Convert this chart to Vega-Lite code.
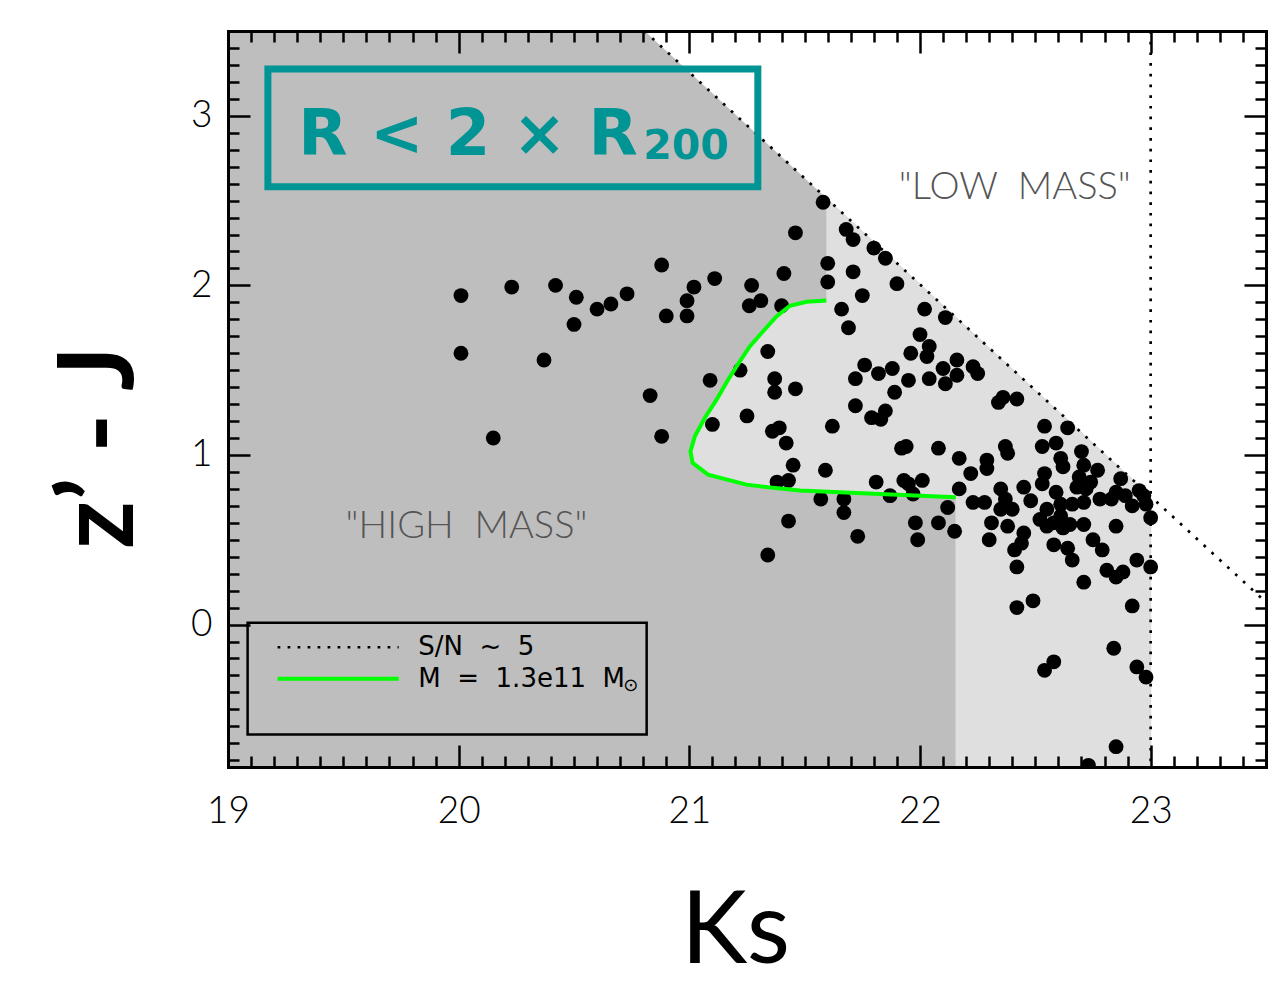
{
  "$schema": "https://vega.github.io/schema/vega-lite/v6.json",
  "width": 1038,
  "height": 736,
  "autosize": {"type": "none"},
  "padding": {"left": 228, "top": 31, "right": 19, "bottom": 234},
  "background": "white",
  "config": {"view": {"stroke": null}, "font": "Lato"},
  "datasets": {
    "darkRegion": [
      {"i": 1, "Ks": 19, "zJ": -0.84},
      {"i": 2, "Ks": 19, "zJ": 3.5},
      {"i": 3, "Ks": 20.805, "zJ": 3.5},
      {"i": 4, "Ks": 23, "zJ": 0.756},
      {"i": 5, "Ks": 23, "zJ": -0.84}
    ],
    "lightRegion": [
      {"i": 1, "Ks": 21.594, "zJ": 1.911},
      {"i": 2, "Ks": 21.508, "zJ": 1.903},
      {"i": 3, "Ks": 21.436, "zJ": 1.88},
      {"i": 4, "Ks": 21.378, "zJ": 1.817},
      {"i": 5, "Ks": 21.319, "zJ": 1.728},
      {"i": 6, "Ks": 21.262, "zJ": 1.64},
      {"i": 7, "Ks": 21.219, "zJ": 1.552},
      {"i": 8, "Ks": 21.168, "zJ": 1.444},
      {"i": 9, "Ks": 21.118, "zJ": 1.326},
      {"i": 10, "Ks": 21.067, "zJ": 1.218},
      {"i": 11, "Ks": 21.024, "zJ": 1.11},
      {"i": 12, "Ks": 21.005, "zJ": 1.021},
      {"i": 13, "Ks": 21.014, "zJ": 0.953},
      {"i": 14, "Ks": 21.081, "zJ": 0.884},
      {"i": 15, "Ks": 21.248, "zJ": 0.825},
      {"i": 16, "Ks": 21.363, "zJ": 0.806},
      {"i": 17, "Ks": 21.479, "zJ": 0.791},
      {"i": 18, "Ks": 21.826, "zJ": 0.77},
      {"i": 19, "Ks": 22.155, "zJ": 0.75},
      {"i": 20, "Ks": 22.155, "zJ": -0.84},
      {"i": 21, "Ks": 23, "zJ": -0.84},
      {"i": 22, "Ks": 23, "zJ": 0.756},
      {"i": 23, "Ks": 21.594, "zJ": 2.514}
    ],
    "massTrack": [
      {"i": 1, "Ks": 21.594, "zJ": 1.911},
      {"i": 2, "Ks": 21.508, "zJ": 1.903},
      {"i": 3, "Ks": 21.436, "zJ": 1.88},
      {"i": 4, "Ks": 21.378, "zJ": 1.817},
      {"i": 5, "Ks": 21.319, "zJ": 1.728},
      {"i": 6, "Ks": 21.262, "zJ": 1.64},
      {"i": 7, "Ks": 21.219, "zJ": 1.552},
      {"i": 8, "Ks": 21.168, "zJ": 1.444},
      {"i": 9, "Ks": 21.118, "zJ": 1.326},
      {"i": 10, "Ks": 21.067, "zJ": 1.218},
      {"i": 11, "Ks": 21.024, "zJ": 1.11},
      {"i": 12, "Ks": 21.005, "zJ": 1.021},
      {"i": 13, "Ks": 21.014, "zJ": 0.953},
      {"i": 14, "Ks": 21.081, "zJ": 0.884},
      {"i": 15, "Ks": 21.248, "zJ": 0.825},
      {"i": 16, "Ks": 21.363, "zJ": 0.806},
      {"i": 17, "Ks": 21.479, "zJ": 0.791},
      {"i": 18, "Ks": 21.826, "zJ": 0.77},
      {"i": 19, "Ks": 22.155, "zJ": 0.75}
    ],
    "snLimit": [
      {"i": 1, "Ks": 20.805, "zJ": 3.5},
      {"i": 2, "Ks": 23.5, "zJ": 0.131}
    ],
    "galaxies": [
      {"Ks": 20.01, "zJ": 1.94}, {"Ks": 20.01, "zJ": 1.60}, {"Ks": 20.23, "zJ": 1.99}, {"Ks": 20.15, "zJ": 1.10},
      {"Ks": 20.37, "zJ": 1.56}, {"Ks": 20.42, "zJ": 2.00}, {"Ks": 20.51, "zJ": 1.93}, {"Ks": 20.50, "zJ": 1.77},
      {"Ks": 20.60, "zJ": 1.86}, {"Ks": 20.66, "zJ": 1.89}, {"Ks": 20.73, "zJ": 1.95}, {"Ks": 20.83, "zJ": 1.35},
      {"Ks": 20.88, "zJ": 1.11}, {"Ks": 20.88, "zJ": 2.12}, {"Ks": 20.90, "zJ": 1.82}, {"Ks": 20.99, "zJ": 1.91},
      {"Ks": 20.99, "zJ": 1.82}, {"Ks": 21.02, "zJ": 1.99}, {"Ks": 21.11, "zJ": 2.04}, {"Ks": 21.09, "zJ": 1.44},
      {"Ks": 21.10, "zJ": 1.18}, {"Ks": 21.22, "zJ": 1.50}, {"Ks": 21.25, "zJ": 1.23}, {"Ks": 21.27, "zJ": 2.00},
      {"Ks": 21.26, "zJ": 1.88}, {"Ks": 21.31, "zJ": 1.91}, {"Ks": 21.34, "zJ": 1.61}, {"Ks": 21.34, "zJ": 0.41},
      {"Ks": 21.37, "zJ": 1.45}, {"Ks": 21.37, "zJ": 1.37}, {"Ks": 21.36, "zJ": 1.14}, {"Ks": 21.39, "zJ": 1.16},
      {"Ks": 21.42, "zJ": 1.07}, {"Ks": 21.45, "zJ": 0.94}, {"Ks": 21.38, "zJ": 0.84}, {"Ks": 21.43, "zJ": 0.85},
      {"Ks": 21.43, "zJ": 0.61}, {"Ks": 21.41, "zJ": 2.07}, {"Ks": 21.40, "zJ": 1.88}, {"Ks": 21.46, "zJ": 2.31},
      {"Ks": 21.46, "zJ": 1.39}, {"Ks": 21.58, "zJ": 2.49}, {"Ks": 21.60, "zJ": 2.13}, {"Ks": 21.60, "zJ": 2.02},
      {"Ks": 21.68, "zJ": 2.33}, {"Ks": 21.71, "zJ": 2.27}, {"Ks": 21.71, "zJ": 2.08}, {"Ks": 21.75, "zJ": 1.94},
      {"Ks": 21.66, "zJ": 1.86}, {"Ks": 21.69, "zJ": 1.75}, {"Ks": 21.80, "zJ": 2.22}, {"Ks": 21.85, "zJ": 2.16},
      {"Ks": 21.90, "zJ": 2.01}, {"Ks": 21.59, "zJ": 0.91}, {"Ks": 21.62, "zJ": 1.17}, {"Ks": 21.72, "zJ": 1.29},
      {"Ks": 21.79, "zJ": 1.22}, {"Ks": 21.83, "zJ": 1.21}, {"Ks": 21.85, "zJ": 1.26}, {"Ks": 21.72, "zJ": 1.45},
      {"Ks": 21.76, "zJ": 1.53}, {"Ks": 21.82, "zJ": 1.48}, {"Ks": 21.88, "zJ": 1.51}, {"Ks": 21.89, "zJ": 1.37},
      {"Ks": 21.95, "zJ": 1.44}, {"Ks": 22.04, "zJ": 1.45}, {"Ks": 22.11, "zJ": 1.42}, {"Ks": 22.16, "zJ": 1.56},
      {"Ks": 22.23, "zJ": 1.52}, {"Ks": 22.25, "zJ": 1.48}, {"Ks": 22.16, "zJ": 1.47}, {"Ks": 22.02, "zJ": 1.86},
      {"Ks": 22.11, "zJ": 1.81}, {"Ks": 22.00, "zJ": 1.71}, {"Ks": 22.04, "zJ": 1.64}, {"Ks": 22.03, "zJ": 1.58},
      {"Ks": 21.96, "zJ": 1.60}, {"Ks": 21.92, "zJ": 1.04}, {"Ks": 21.94, "zJ": 1.05}, {"Ks": 22.08, "zJ": 1.04},
      {"Ks": 22.17, "zJ": 0.98}, {"Ks": 22.22, "zJ": 0.89}, {"Ks": 22.29, "zJ": 0.92}, {"Ks": 22.29, "zJ": 0.97},
      {"Ks": 22.34, "zJ": 1.31}, {"Ks": 22.36, "zJ": 1.34}, {"Ks": 22.42, "zJ": 1.33}, {"Ks": 22.37, "zJ": 1.05},
      {"Ks": 22.38, "zJ": 1.01}, {"Ks": 22.54, "zJ": 1.17}, {"Ks": 22.64, "zJ": 1.16}, {"Ks": 22.53, "zJ": 1.05},
      {"Ks": 22.59, "zJ": 1.07}, {"Ks": 22.61, "zJ": 0.98}, {"Ks": 22.62, "zJ": 0.93}, {"Ks": 22.70, "zJ": 1.02},
      {"Ks": 22.71, "zJ": 0.94}, {"Ks": 22.77, "zJ": 0.91}, {"Ks": 22.87, "zJ": 0.86}, {"Ks": 22.54, "zJ": 0.89},
      {"Ks": 21.57, "zJ": 0.74}, {"Ks": 21.67, "zJ": 0.74}, {"Ks": 21.67, "zJ": 0.66}, {"Ks": 21.73, "zJ": 0.52},
      {"Ks": 21.81, "zJ": 0.84}, {"Ks": 21.93, "zJ": 0.85}, {"Ks": 21.95, "zJ": 0.83}, {"Ks": 22.01, "zJ": 0.85},
      {"Ks": 21.87, "zJ": 0.76}, {"Ks": 21.97, "zJ": 0.77}, {"Ks": 22.12, "zJ": 0.69}, {"Ks": 22.08, "zJ": 0.60},
      {"Ks": 22.15, "zJ": 0.55}, {"Ks": 21.98, "zJ": 0.60}, {"Ks": 21.99, "zJ": 0.50}, {"Ks": 22.17, "zJ": 0.80},
      {"Ks": 22.23, "zJ": 0.72}, {"Ks": 22.69, "zJ": 0.87}, {"Ks": 22.74, "zJ": 0.84}, {"Ks": 22.68, "zJ": 0.81},
      {"Ks": 22.95, "zJ": 0.79}, {"Ks": 22.97, "zJ": 0.76}, {"Ks": 22.98, "zJ": 0.71}, {"Ks": 23.00, "zJ": 0.63},
      {"Ks": 22.28, "zJ": 0.72}, {"Ks": 22.35, "zJ": 0.80}, {"Ks": 22.37, "zJ": 0.74}, {"Ks": 22.35, "zJ": 0.68},
      {"Ks": 22.40, "zJ": 0.68}, {"Ks": 22.45, "zJ": 0.81}, {"Ks": 22.48, "zJ": 0.73}, {"Ks": 22.53, "zJ": 0.83},
      {"Ks": 22.59, "zJ": 0.78}, {"Ks": 22.66, "zJ": 0.71}, {"Ks": 22.55, "zJ": 0.68}, {"Ks": 22.61, "zJ": 0.64},
      {"Ks": 22.52, "zJ": 0.62}, {"Ks": 22.58, "zJ": 0.60}, {"Ks": 22.65, "zJ": 0.59}, {"Ks": 22.71, "zJ": 0.72},
      {"Ks": 22.72, "zJ": 0.80}, {"Ks": 22.78, "zJ": 0.74}, {"Ks": 22.83, "zJ": 0.74}, {"Ks": 22.85, "zJ": 0.78},
      {"Ks": 22.89, "zJ": 0.76}, {"Ks": 22.92, "zJ": 0.70}, {"Ks": 22.71, "zJ": 0.59}, {"Ks": 22.85, "zJ": 0.58},
      {"Ks": 22.31, "zJ": 0.60}, {"Ks": 22.38, "zJ": 0.58}, {"Ks": 22.61, "zJ": 0.71}, {"Ks": 22.30, "zJ": 0.50},
      {"Ks": 22.45, "zJ": 0.54}, {"Ks": 22.44, "zJ": 0.48}, {"Ks": 22.41, "zJ": 0.44}, {"Ks": 22.42, "zJ": 0.34},
      {"Ks": 22.55, "zJ": 0.58}, {"Ks": 22.62, "zJ": 0.57}, {"Ks": 22.58, "zJ": 0.47}, {"Ks": 22.64, "zJ": 0.45},
      {"Ks": 22.66, "zJ": 0.38}, {"Ks": 22.75, "zJ": 0.50}, {"Ks": 22.79, "zJ": 0.44}, {"Ks": 22.81, "zJ": 0.32},
      {"Ks": 22.85, "zJ": 0.28}, {"Ks": 22.88, "zJ": 0.31}, {"Ks": 22.94, "zJ": 0.38}, {"Ks": 23.00, "zJ": 0.34},
      {"Ks": 22.71, "zJ": 0.25}, {"Ks": 22.42, "zJ": 0.10}, {"Ks": 22.49, "zJ": 0.14}, {"Ks": 22.92, "zJ": 0.11},
      {"Ks": 22.84, "zJ": -0.14}, {"Ks": 22.54, "zJ": -0.27}, {"Ks": 22.58, "zJ": -0.22}, {"Ks": 22.94, "zJ": -0.25},
      {"Ks": 22.98, "zJ": -0.31}, {"Ks": 22.85, "zJ": -0.72}, {"Ks": 22.73, "zJ": -0.83}, {"Ks": 22.10, "zJ": 1.51}
    ]
  },
  "layer": [
    {
      "data": {"name": "darkRegion"},
      "mark": {"type": "line", "fill": "#bebebe", "stroke": "#bebebe", "strokeWidth": 0.5, "clip": true},
      "encoding": {
        "x": {"field": "Ks", "type": "quantitative", "scale": {"domain": [19, 23.5], "nice": false, "zero": false},
          "axis": {"orient": "bottom", "values": [19, 20, 21, 22, 23], "format": "d", "tickSize": -22, "tickWidth": 2.5, "tickColor": "black",
            "domain": true, "domainWidth": 3, "domainColor": "black", "domainCap": "square", "grid": false, "zindex": 1,
            "labelFont": "Lato", "labelFontSize": 37, "labelFontWeight": 300, "labelColor": "black", "labelPadding": 48, "labelFlush": false, "labelOverlap": false,
            "title": "Ks", "titleFont": "Lato", "titleFontSize": 100, "titleFontWeight": "normal", "titleColor": "black",
            "titleX": 507, "titleY": 195, "titleBaseline": "alphabetic", "titleAlign": "center"}},
        "y": {"field": "zJ", "type": "quantitative", "scale": {"domain": [-0.84, 3.5], "nice": false, "zero": false},
          "axis": {"orient": "left", "values": [0, 1, 2, 3], "format": "d", "tickSize": -22, "tickWidth": 2.5, "tickColor": "black",
            "domain": true, "domainWidth": 3, "domainColor": "black", "domainCap": "square", "grid": false, "zindex": 1,
            "labelFont": "Lato", "labelFontSize": 37, "labelFontWeight": 300, "labelColor": "black", "labelPadding": 38, "labelFlush": false, "labelOverlap": false,
            "title": "z’ - J", "titleFont": "Lato", "titleFontSize": 105, "titleFontWeight": "bold", "titleColor": "black",
            "titleAngle": 270, "titleX": -96, "titleY": 416, "titleBaseline": "alphabetic", "titleAlign": "center"}},
        "order": {"field": "i", "type": "quantitative"}
      }
    },
    {
      "data": {"name": "lightRegion"},
      "mark": {"type": "line", "fill": "#dfdfdf", "stroke": "#dfdfdf", "strokeWidth": 0.5, "clip": true},
      "encoding": {
        "x": {"field": "Ks", "type": "quantitative", "scale": {"domain": [19, 23.5], "nice": false, "zero": false},
          "axis": {"orient": "bottom", "values": [19.1,19.2,19.3,19.4,19.5,19.6,19.7,19.8,19.9,20.1,20.2,20.3,20.4,20.5,20.6,20.7,20.8,20.9,21.1,21.2,21.3,21.4,21.5,21.6,21.7,21.8,21.9,22.1,22.2,22.3,22.4,22.5,22.6,22.7,22.8,22.9,23.1,23.2,23.3,23.4],
            "tickSize": -11, "tickWidth": 2.5, "tickColor": "black", "domain": false, "grid": false, "labels": false, "title": null, "zindex": 1}},
        "y": {"field": "zJ", "type": "quantitative", "scale": {"domain": [-0.84, 3.5], "nice": false, "zero": false},
          "axis": {"orient": "left", "values": [-0.8,-0.7,-0.6,-0.5,-0.4,-0.3,-0.2,-0.1,0.1,0.2,0.3,0.4,0.5,0.6,0.7,0.8,0.9,1.1,1.2,1.3,1.4,1.5,1.6,1.7,1.8,1.9,2.1,2.2,2.3,2.4,2.5,2.6,2.7,2.8,2.9,3.1,3.2,3.3,3.4],
            "tickSize": -11, "tickWidth": 2.5, "tickColor": "black", "domain": false, "grid": false, "labels": false, "title": null, "zindex": 1}},
        "order": {"field": "i", "type": "quantitative"}
      }
    },
    {
      "data": {"values": [{}]},
      "mark": {"type": "rule", "color": "black", "strokeWidth": 2.7, "strokeDash": [2.7, 8]},
      "encoding": {
        "x": {"datum": 23, "type": "quantitative", "scale": {"domain": [19, 23.5], "nice": false, "zero": false}, "axis": null}
      }
    },
    {
      "data": {"name": "snLimit"},
      "mark": {"type": "line", "color": "black", "strokeWidth": 2.7, "strokeDash": [2.7, 8], "clip": true},
      "encoding": {
        "x": {"field": "Ks", "type": "quantitative", "scale": {"domain": [19, 23.5], "nice": false, "zero": false},
          "axis": {"orient": "top", "values": [19, 20, 21, 22, 23], "tickSize": -22, "tickWidth": 2.5, "tickColor": "black",
            "domain": true, "domainWidth": 3, "domainColor": "black", "domainCap": "square", "grid": false, "labels": false, "title": null, "zindex": 1}},
        "y": {"field": "zJ", "type": "quantitative", "scale": {"domain": [-0.84, 3.5], "nice": false, "zero": false},
          "axis": {"orient": "right", "values": [0, 1, 2, 3], "tickSize": -22, "tickWidth": 2.5, "tickColor": "black",
            "domain": true, "domainWidth": 3, "domainColor": "black", "domainCap": "square", "grid": false, "labels": false, "title": null, "zindex": 1}},
        "order": {"field": "i", "type": "quantitative"}
      }
    },
    {
      "data": {"name": "galaxies"},
      "mark": {"type": "circle", "color": "black", "opacity": 1, "size": 220, "clip": true},
      "encoding": {
        "x": {"field": "Ks", "type": "quantitative", "scale": {"domain": [19, 23.5], "nice": false, "zero": false}, "axis": null},
        "y": {"field": "zJ", "type": "quantitative", "scale": {"domain": [-0.84, 3.5], "nice": false, "zero": false}, "axis": null}
      }
    },
    {
      "data": {"name": "massTrack"},
      "mark": {"type": "line", "color": "#00ff00", "strokeWidth": 4, "clip": true},
      "encoding": {
        "x": {"field": "Ks", "type": "quantitative", "scale": {"domain": [19, 23.5], "nice": false, "zero": false},
          "axis": {"orient": "top", "values": [19.1,19.2,19.3,19.4,19.5,19.6,19.7,19.8,19.9,20.1,20.2,20.3,20.4,20.5,20.6,20.7,20.8,20.9,21.1,21.2,21.3,21.4,21.5,21.6,21.7,21.8,21.9,22.1,22.2,22.3,22.4,22.5,22.6,22.7,22.8,22.9,23.1,23.2,23.3,23.4],
            "tickSize": -11, "tickWidth": 2.5, "tickColor": "black", "domain": false, "grid": false, "labels": false, "title": null, "zindex": 1}},
        "y": {"field": "zJ", "type": "quantitative", "scale": {"domain": [-0.84, 3.5], "nice": false, "zero": false},
          "axis": {"orient": "right", "values": [-0.8,-0.7,-0.6,-0.5,-0.4,-0.3,-0.2,-0.1,0.1,0.2,0.3,0.4,0.5,0.6,0.7,0.8,0.9,1.1,1.2,1.3,1.4,1.5,1.6,1.7,1.8,1.9,2.1,2.2,2.3,2.4,2.5,2.6,2.7,2.8,2.9,3.1,3.2,3.3,3.4],
            "tickSize": -11, "tickWidth": 2.5, "tickColor": "black", "domain": false, "grid": false, "labels": false, "title": null, "zindex": 1}},
        "order": {"field": "i", "type": "quantitative"}
      }
    },
    {
      "data": {"values": [{}]},
      "mark": {"type": "rect", "fill": "transparent", "stroke": "#009494", "strokeWidth": 7},
      "encoding": {
        "x": {"datum": 19.173, "type": "quantitative", "scale": {"domain": [19, 23.5], "nice": false, "zero": false}, "axis": null},
        "x2": {"datum": 21.297},
        "y": {"datum": 3.276, "type": "quantitative", "scale": {"domain": [-0.84, 3.5], "nice": false, "zero": false}, "axis": null},
        "y2": {"datum": 2.581}
      }
    },
    {
      "data": {"values": [{}]},
      "mark": {"type": "text", "text": "R < 2 × R", "font": "DejaVu Sans", "fontSize": 64, "fontWeight": "bold", "color": "#009494", "align": "left", "baseline": "alphabetic"},
      "encoding": {
        "x": {"datum": 19.305, "type": "quantitative", "scale": {"domain": [19, 23.5], "nice": false, "zero": false}, "axis": null},
        "y": {"datum": 2.77, "type": "quantitative", "scale": {"domain": [-0.84, 3.5], "nice": false, "zero": false}, "axis": null}
      }
    },
    {
      "data": {"values": [{}]},
      "mark": {"type": "text", "text": "200", "font": "DejaVu Sans", "fontSize": 41, "fontWeight": "bold", "color": "#009494", "align": "left", "baseline": "alphabetic"},
      "encoding": {
        "x": {"datum": 20.8, "type": "quantitative", "scale": {"domain": [19, 23.5], "nice": false, "zero": false}, "axis": null},
        "y": {"datum": 2.746, "type": "quantitative", "scale": {"domain": [-0.84, 3.5], "nice": false, "zero": false}, "axis": null}
      }
    },
    {
      "data": {"values": [{}]},
      "mark": {"type": "text", "text": "\"LOW\u00a0\u00a0MASS\"", "font": "Lato", "fontSize": 38, "fontWeight": 300, "color": "#555555", "align": "center", "baseline": "middle"},
      "encoding": {
        "x": {"datum": 22.411, "type": "quantitative", "scale": {"domain": [19, 23.5], "nice": false, "zero": false}, "axis": null},
        "y": {"datum": 2.575, "type": "quantitative", "scale": {"domain": [-0.84, 3.5], "nice": false, "zero": false}, "axis": null}
      }
    },
    {
      "data": {"values": [{}]},
      "mark": {"type": "text", "text": "\"HIGH\u00a0\u00a0MASS\"", "font": "Lato", "fontSize": 38, "fontWeight": 300, "color": "#555555", "align": "center", "baseline": "middle"},
      "encoding": {
        "x": {"datum": 20.034, "type": "quantitative", "scale": {"domain": [19, 23.5], "nice": false, "zero": false}, "axis": null},
        "y": {"datum": 0.577, "type": "quantitative", "scale": {"domain": [-0.84, 3.5], "nice": false, "zero": false}, "axis": null}
      }
    },
    {
      "data": {"values": [{}]},
      "mark": {"type": "rect", "fill": "transparent", "stroke": "black", "strokeWidth": 2.5},
      "encoding": {
        "x": {"datum": 19.085, "type": "quantitative", "scale": {"domain": [19, 23.5], "nice": false, "zero": false}, "axis": null},
        "x2": {"datum": 20.815},
        "y": {"datum": 0.01, "type": "quantitative", "scale": {"domain": [-0.84, 3.5], "nice": false, "zero": false}, "axis": null},
        "y2": {"datum": -0.648}
      }
    },
    {
      "data": {"values": [{}]},
      "mark": {"type": "rule", "color": "black", "strokeWidth": 2.7, "strokeDash": [2.7, 7.3]},
      "encoding": {
        "x": {"datum": 19.215, "type": "quantitative", "scale": {"domain": [19, 23.5], "nice": false, "zero": false}, "axis": null},
        "x2": {"datum": 19.74},
        "y": {"datum": -0.134, "type": "quantitative", "scale": {"domain": [-0.84, 3.5], "nice": false, "zero": false}, "axis": null}
      }
    },
    {
      "data": {"values": [{}]},
      "mark": {"type": "rule", "color": "#00ff00", "strokeWidth": 4},
      "encoding": {
        "x": {"datum": 19.215, "type": "quantitative", "scale": {"domain": [19, 23.5], "nice": false, "zero": false}, "axis": null},
        "x2": {"datum": 19.74},
        "y": {"datum": -0.32, "type": "quantitative", "scale": {"domain": [-0.84, 3.5], "nice": false, "zero": false}, "axis": null}
      }
    },
    {
      "data": {"values": [{}]},
      "mark": {"type": "text", "text": "S/N\u00a0\u00a0~\u00a0\u00a05", "font": "DejaVu Sans", "fontSize": 26, "color": "black", "align": "left", "baseline": "middle"},
      "encoding": {
        "x": {"datum": 19.825, "type": "quantitative", "scale": {"domain": [19, 23.5], "nice": false, "zero": false}, "axis": null},
        "y": {"datum": -0.13, "type": "quantitative", "scale": {"domain": [-0.84, 3.5], "nice": false, "zero": false}, "axis": null}
      }
    },
    {
      "data": {"values": [{}]},
      "mark": {"type": "text", "text": "M\u00a0\u00a0=\u00a0\u00a01.3e11\u00a0\u00a0M", "font": "DejaVu Sans", "fontSize": 26, "color": "black", "align": "left", "baseline": "middle"},
      "encoding": {
        "x": {"datum": 19.825, "type": "quantitative", "scale": {"domain": [19, 23.5], "nice": false, "zero": false}, "axis": null},
        "y": {"datum": -0.324, "type": "quantitative", "scale": {"domain": [-0.84, 3.5], "nice": false, "zero": false}, "axis": null}
      }
    },
    {
      "data": {"values": [{}]},
      "mark": {"type": "text", "text": "⊙", "font": "DejaVu Sans", "fontSize": 18, "color": "black", "align": "center", "baseline": "middle"},
      "encoding": {
        "x": {"datum": 20.746, "type": "quantitative", "scale": {"domain": [19, 23.5], "nice": false, "zero": false}, "axis": null},
        "y": {"datum": -0.365, "type": "quantitative", "scale": {"domain": [-0.84, 3.5], "nice": false, "zero": false}, "axis": null}
      }
    }
  ],
  "resolve": {"axis": {"x": "independent", "y": "independent"}}
}
